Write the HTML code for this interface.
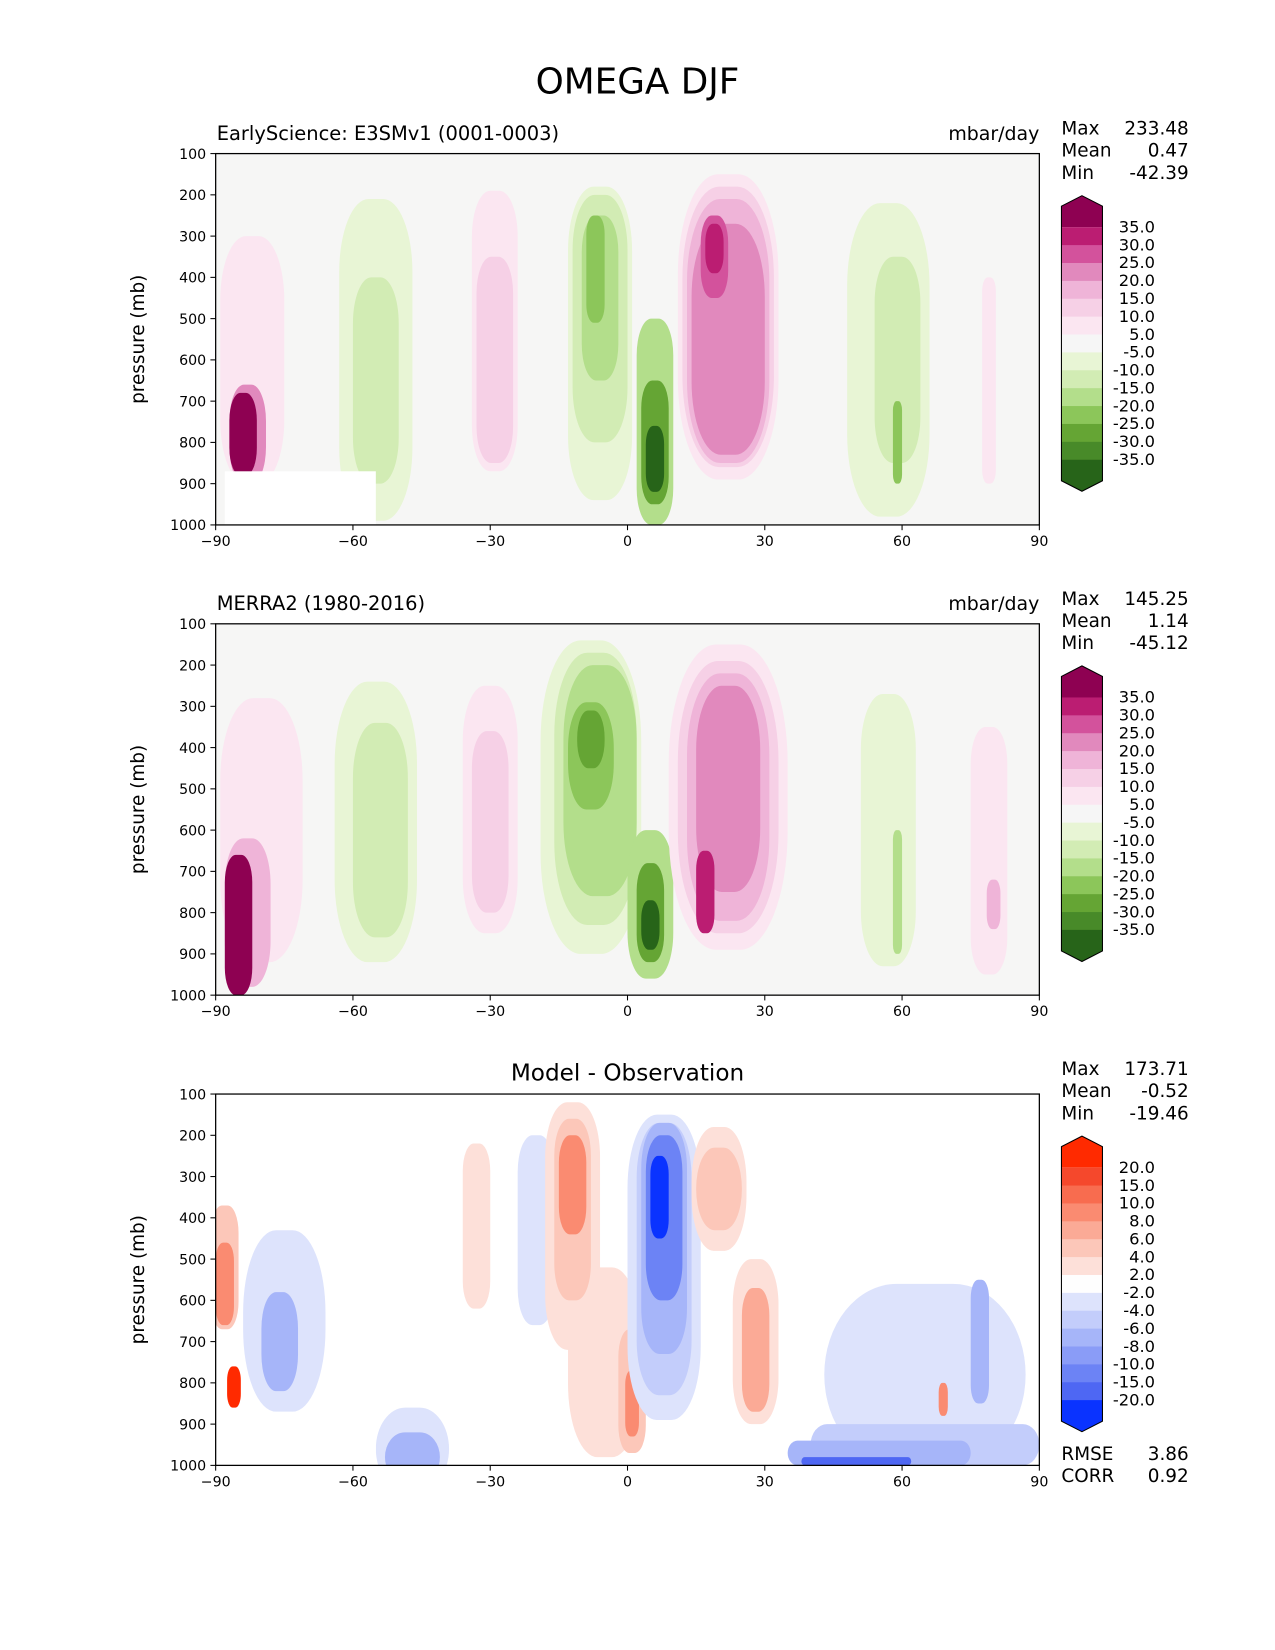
<!DOCTYPE html>
<html><head><meta charset="utf-8"><title>OMEGA DJF</title>
<style>html,body{margin:0;padding:0;background:#fff}svg{display:block}text{font-family:"DejaVu Sans","Liberation Sans",sans-serif;fill:#000}</style>
</head><body>
<svg id="fig" xmlns="http://www.w3.org/2000/svg" width="1275" height="1650" viewBox="0 0 1212 1568.5">
<rect width="1212" height="1568.5" fill="#fff"/>
<text x="606" y="89" font-size="34" text-anchor="middle">OMEGA DJF</text>
</svg>
<script>
// ---- data ----
const panelTitles = ["EarlyScience: E3SMv1 (0001-0003)", "MERRA2 (1980-2016)", "Model - Observation"];
const panelUnits = ["mbar/day", "mbar/day", ""];
const statNames = ["Max", "Mean", "Min"];
const statValues1 = ["233.48", "0.47", "-42.39"];
const statValues2 = ["145.25", "1.14", "-45.12"];
const statValues3 = ["173.71", "-0.52", "-19.46"];
const extraNames = ["RMSE", "CORR"];
const extraValues = ["3.86", "0.92"];
const xTicks = [-90, -60, -30, 0, 30, 60, 90];
const yTicks = [100, 200, 300, 400, 500, 600, 700, 800, 900, 1000];
const cbarLabelsA = ["35.0","30.0","25.0","20.0","15.0","10.0","5.0","-5.0","-10.0","-15.0","-20.0","-25.0","-30.0","-35.0"];
const cbarLabelsB = ["20.0","15.0","10.0","8.0","6.0","4.0","2.0","-2.0","-4.0","-6.0","-8.0","-10.0","-15.0","-20.0"];
const posColorsA = ["#fbe6f1","#f6d0e6","#efb4d8","#e189bd","#d3529c","#bb1d72","#8e0152"];
const negColorsA = ["#e8f5d5","#d2ecb4","#b3de8b","#8cc65a","#65a534","#488a29","#276419"];
const posColorsB = ["#fde0d9","#fcc7b9","#fbaa96","#fa8b71","#f86c4f","#f5482c","#ff2a00"];
const negColorsB = ["#dde3fc","#c3cdfb","#a6b5f9","#8a9cf7","#6c83f5","#4e67f3","#0a33ff"];
// blobs: [lat, pressure, halfWidthDeg, halfHeightMb, level]
const blobs1 = [
 [-82,600,7,300,1],[-83,780,4,120,4],[-84,780,3,100,7],
 [-55,600,8,390,-1],[-55,650,5,250,-2],
 [-29,530,5,340,1],[-29,600,4,250,2],
 [-6,560,7,380,-1],[-6,500,6,300,-2],[-6,450,4,200,-3],[-7,380,2,130,-4],
 [6,750,4,250,-3],[6,800,3,150,-5],[6,840,2,80,-7],
 [22,520,11,370,1],[22,520,10,340,2],[22,530,9,320,3],[22,550,8,280,4],[19,350,3,100,5],[19,330,2,60,6],
 [57,600,9,380,-1],[59,600,5,250,-2],[59,800,1,100,-4],
 [79,650,1.5,250,1]
];
const blobs2 = [
 [-80,600,9,320,1],[-83,800,5,180,3],[-85,830,3,170,7],
 [-55,580,9,340,-1],[-54,600,6,260,-2],
 [-30,550,6,300,1],[-30,580,4,220,2],
 [-8,520,11,380,-1],[-7,500,9,330,-2],[-6,480,8,280,-3],[-8,420,5,130,-4],[-8,380,3,70,-5],
 [5,780,5,180,-3],[5,800,3,120,-5],[5,830,2,60,-7],
 [22,520,13,370,1],[22,520,11,330,2],[22,520,9,300,3],[22,500,7,250,4],[17,750,2,100,6],
 [57,600,6,330,-1],[59,750,1,150,-3],
 [79,650,4,300,1],[80,780,1.5,60,3]
];
const blobs3 = [
 [-88,520,3,150,2],[-88,560,2,100,4],[-86,810,1.5,50,7],
 [-75,650,9,220,-1],[-76,700,4,120,-3],
 [-47,960,8,100,-1],[-47,980,6,60,-3],
 [-33,420,3,200,1],[-20,430,4,230,-1],
 [-5,750,8,230,1],[-12,420,6,300,1],[-12,380,4,220,2],[-12,320,3,120,4],
 [1,820,3,150,2],[1,850,1.5,80,4],
 [8,520,8,370,-1],[8,500,6,330,-2],[8,450,5,280,-3],[8,400,4,200,-5],[7,350,2,100,-7],
 [20,330,6,150,1],[20,330,5,100,2],
 [28,700,5,200,1],[28,720,3,150,3],
 [65,780,22,220,-1],[65,950,25,50,-2],[55,970,20,30,-3],[50,990,12,10,-6],
 [77,700,2,150,-3],[69,840,1,40,4]
];
// ---- drawing ----
const NS = "http://www.w3.org/2000/svg";
const svg = document.getElementById("fig");
const X0 = 205, X1 = 988, PH = 353;
const panelTops = [146, 593, 1040];
function xs(lat){ return X0 + (lat + 90) / 180 * (X1 - X0); }
function ys(p, top){ return top + (p - 100) / 900 * PH; }
function mk(tag, attrs, parent){ const e = document.createElementNS(NS, tag); for (const k in attrs) e.setAttribute(k, attrs[k]); (parent || svg).appendChild(e); return e; }
function txt(s, x, y, size, anchor, parent){ const t = mk("text", {x:x, y:y, "font-size":size, "text-anchor":anchor||"start"}, parent); t.textContent = s; return t; }

function drawPanel(i, blobs, pos, neg, bg, labels, stats, hasMissing){
  const top = panelTops[i];
  const g = mk("g", {});
  
  
  const cid = "clip" + i;
  const cp = mk("clipPath", {id: cid}, g);
  mk("rect", {x:X0, y:top, width:X1-X0, height:PH}, cp);
  const bgr = mk("rect", {x:X0, y:top, width:X1-X0, height:PH, fill:bg}, g);
  
  
  const fg = mk("g", {"clip-path":"url(#" + cid + ")"}, g);
  
  
  for (const b of blobs){
    const c = b[4] > 0 ? pos[b[4]-1] : neg[-b[4]-1];
    const cx = xs(b[0]), cy = ys(b[1], top);
    const rx = b[2] / 180 * (X1 - X0), ry = b[3] / 900 * PH;
    const r = Math.min(rx, ry) * 0.8;
    const e = mk("rect", {x:cx-rx, y:cy-ry, width:2*rx, height:2*ry, rx:r, ry:Math.min(ry, r*2.5), fill:c}, fg);
    
    
  }
  if (hasMissing){
    const m = mk("rect", {x:xs(-88), y:ys(870, top), width:xs(-55)-xs(-88), height:ys(1000,top)-ys(870,top), fill:"#fff"}, fg);
    
    
  }
  const fr = mk("rect", {x:X0, y:top, width:X1-X0, height:PH, fill:"none", stroke:"#000", "stroke-width":1.2}, g);
  
  
  for (const t of xTicks){
    const x = xs(t);
    mk("line", {x1:x, x2:x, y1:top+PH, y2:top+PH+5, stroke:"#000"}, g);
    const l = txt(t < 0 ? "\u2212" + (-t) : String(t), x, top+PH+20, 13.5, "middle", g);
    
    
  }
  for (const t of yTicks){
    const y = ys(t, top);
    mk("line", {x1:X0-5, x2:X0, y1:y, y2:y, stroke:"#000"}, g);
    const l = txt(String(t), X0-9, y+5, 13.5, "end", g);
    
    
  }
  const yl = txt("pressure (mb)", 0, 0, 17.5, "middle", g);
  yl.setAttribute("transform", "translate(137," + (top+PH/2) + ") rotate(-90)");
  
  
  if (i < 2){
    const tl = txt(panelTitles[i], X0+1, top-13, 18.5, "start", g);
    
    
    const ul = txt(panelUnits[i], X1, top-13, 18, "end", g);
    
    
  } else {
    const tl = txt(panelTitles[i], (X0+X1)/2, top-13, 22, "middle", g);
    
    
  }
  for (let k = 0; k < 3; k++){
    const n = txt(statNames[k], 1009, top-18+k*21, 17.5, "start", g);
    
    
    const v = txt(stats[k], 1130, top-18+k*21, 17.5, "end", g);
    
    
  }
  const cb = mk("g", {}, g);
  
  
  const bx0 = 1009, bx1 = 1048, s0 = top + 70, step = 17, n = labels.length;
  const segColors = [];
  for (let k = 6; k >= 1; k--) segColors.push(pos[k-1]);
  segColors.push(bg === "#fff" ? "#fefefe" : "#f6f6f6");
  for (let k = 1; k <= 6; k++) segColors.push(neg[k-1]);
  mk("polygon", {points: bx0+","+(s0-20)+" "+(bx0+bx1)/2+","+(s0-30)+" "+bx1+","+(s0-20)+" "+bx1+","+s0+" "+bx0+","+s0, fill:pos[6]}, cb);
  for (let k = 0; k < n-1; k++) mk("rect", {x:bx0, y:s0+k*step, width:bx1-bx0, height:step+0.5, fill:segColors[k]}, cb);
  const sb = s0 + (n-1)*step;
  mk("polygon", {points: bx0+","+sb+" "+bx1+","+sb+" "+bx1+","+(sb+20)+" "+(bx0+bx1)/2+","+(sb+30)+" "+bx0+","+(sb+20), fill:neg[6]}, cb);
  mk("polygon", {points: bx0+","+(s0-20)+" "+(bx0+bx1)/2+","+(s0-30)+" "+bx1+","+(s0-20)+" "+bx1+","+(sb+20)+" "+(bx0+bx1)/2+","+(sb+30)+" "+bx0+","+(sb+20), fill:"none", stroke:"#000", "stroke-width":1}, cb);
  for (let k = 0; k < n; k++){
    const l = txt(labels[k], 1098, s0+k*step+5, 15.5, "end", cb);
    
    
  }
}
drawPanel(0, blobs1, posColorsA, negColorsA, "#f6f6f5", cbarLabelsA, statValues1, true);
drawPanel(1, blobs2, posColorsA, negColorsA, "#f6f6f5", cbarLabelsA, statValues2, false);
drawPanel(2, blobs3, posColorsB, negColorsB, "#fff", cbarLabelsB, statValues3, true);
for (let k = 0; k < 2; k++){
  const n = txt(extraNames[k], 1009, 1388+k*21, 17.5, "start");
  
  
  const v = txt(extraValues[k], 1130, 1388+k*21, 17.5, "end");
  
  
}
</script>
</body></html>
